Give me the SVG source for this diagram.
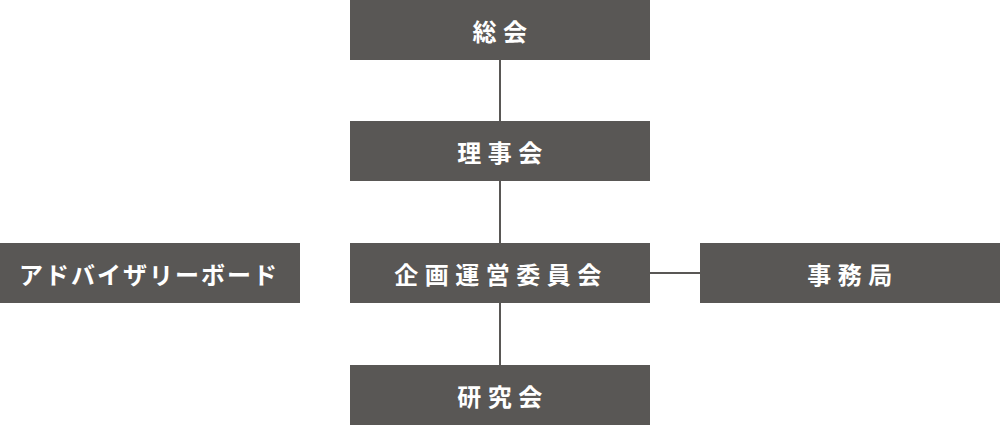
<svg xmlns="http://www.w3.org/2000/svg" width="1000" height="425" viewBox="0 0 1000 425">
<style>
.box{fill:#595755}
.t{fill:#ffffff;font-family:"Noto Sans CJK JP","Noto Sans",sans-serif;font-weight:bold;font-size:24px;text-anchor:middle;dominant-baseline:central;letter-spacing:6.5px}
.c{stroke:#595755;stroke-width:2;fill:none}
</style>
<rect width="1000" height="425" fill="#ffffff"/>
<g id="connectors">
<line class="c" x1="500" y1="60" x2="500" y2="121"/>
<line class="c" x1="500" y1="181" x2="500" y2="243"/>
<line class="c" x1="500" y1="303" x2="500" y2="365"/>
<line class="c" x1="650" y1="273" x2="700" y2="273"/>
</g>
<g id="soukai"><rect class="box" x="350" y="0" width="300" height="60"/><text class="t" x="503" y="30">総会</text></g>
<g id="rijikai"><rect class="box" x="350" y="121" width="300" height="60"/><text class="t" x="503" y="151">理事会</text></g>
<g id="kikaku"><rect class="box" x="350" y="243" width="300" height="60"/><text class="t" x="501" y="273">企画運営委員会</text></g>
<g id="advisory"><rect class="box" x="0" y="243" width="300" height="60"/><text class="t" x="149" y="273" style="letter-spacing:2px">アドバイザリーボード</text></g>
<g id="jimukyoku"><rect class="box" x="700" y="243" width="300" height="60"/><text class="t" x="853" y="273">事務局</text></g>
<g id="kenkyukai"><rect class="box" x="350" y="365" width="300" height="60"/><text class="t" x="503" y="395">研究会</text></g>
</svg>
